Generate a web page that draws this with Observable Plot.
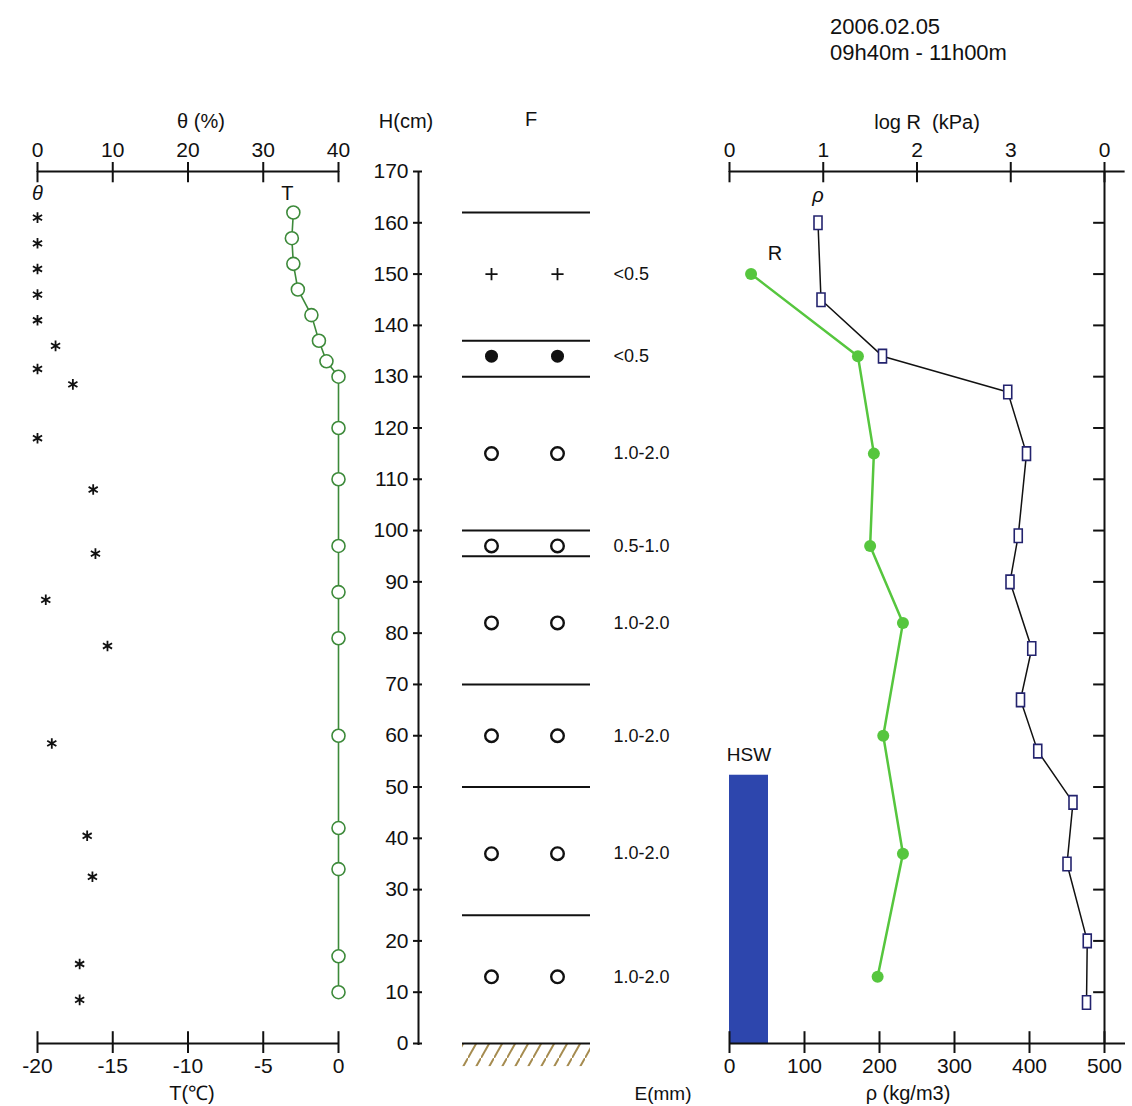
<!DOCTYPE html>
<html><head><meta charset="utf-8">
<script src="https://cdn.jsdelivr.net/npm/d3@7"></script>
<script src="https://cdn.jsdelivr.net/npm/@observablehq/plot@0.6"></script>
<style>
body{margin:0;background:#fff;font-family:"Liberation Sans",Arial,sans-serif;}
#chart{position:relative;width:1132px;height:1106px;overflow:hidden;}
#chart svg{position:absolute;left:0;top:0;}
.lab{position:absolute;transform:translate(-50%,-50%);font-size:20px;white-space:pre;color:#111;line-height:1;}
.labl{position:absolute;transform:translate(0,-50%);font-size:22px;white-space:pre;color:#111;line-height:1;}
</style></head><body><div id="chart"></div>
<script>
// ---------- data ----------
// snow temperature T (°C)
const tempHeights = [162,157,152,147,142,137,133,130,120,110,97,88,79,60,42,34,17,10];
const tempValues  = [-3.0,-3.1,-3.0,-2.7,-1.8,-1.3,-0.8,0,0,0,0,0,0,0,0,0,0,0];
// water content θ (%)
const thetaHeights = [161,156,151,146,141,136,131.5,128.5,118,108,95.5,86.5,77.5,58.5,40.5,32.5,15.5,8.5];
const thetaValues  = [0,0,0,0,0,2.4,0,4.7,0,7.4,7.7,1.1,9.3,1.9,6.6,7.3,5.6,5.6];
// density ρ (kg/m3)
const rhoHeights = [160,145,134,127,115,99,90,77,67,57,47,35,20,8];
const rhoValues  = [118,122,204,371,396,385,374,403,388,411,458,450,477,476];
// hardness log R (kPa)
const hardHeights = [150,134,115,97,82,60,37,13];
const hardValues  = [0.23,1.37,1.54,1.50,1.85,1.64,1.85,1.58];
// layers
const layerBoundaries = [162,137,130,100,95,70,50,25,0];
const layerMids   = [150,134,115,97,82,60,37,13];
const grainShapes = ["+","●","○","○","○","○","○","○"];
const grainSizes  = ["<0.5","<0.5","1.0-2.0","0.5-1.0","1.0-2.0","1.0-2.0","1.0-2.0","1.0-2.0"];
// HSW bar
const hswValue = 52, hswHeight = 52.3;
// ticks
const heightTicks = d3.range(0,171,10);
const tempTicks = [-20,-15,-10,-5,0];
const thetaTicks = [0,10,20,30,40];
const rhoTicks = [0,100,200,300,400,500];
const logRTicks = [0,1,2,3,4];
const logRTickLabels = ["0","1","2","3","0"];
const dateLines = ["2006.02.05","09h40m - 11h00m"];

// ---------- tables ----------
const temp = tempHeights.map((H,i)=>({H, T:tempValues[i]}));
const theta = thetaHeights.map((H,i)=>({H, theta:thetaValues[i]}));
const rho = rhoHeights.map((H,i)=>({H, rho:rhoValues[i]}));
const hard = hardHeights.map((H,i)=>({H, logR:hardValues[i]}));
const layers = layerMids.map((H,i)=>({H, shape:grainShapes[i], size:grainSizes[i]}));

// ---------- layout ----------
const W=1132, HT=1106;
const common = {
  width:W, height:HT, marginTop:171, marginBottom:HT-1043,
  y:{domain:[0,170], axis:null},
  style:{background:"transparent", fontFamily:"'Liberation Sans', Arial, sans-serif", fontSize:"21px", color:"#111", overflow:"visible"}
};
const ink = "#111", tGreen = "#3d8a3a", rGreen = "#56c63e", navy = "#23236e", barBlue = "#2d46ad";
const tallRect = {draw(ctx, size){ const s=Math.sqrt(size/Math.PI); const w=s*0.8, h=s*1.35; ctx.rect(-w,-h,2*w,2*h); }};

const chart = document.getElementById("chart");

// Left: temperature
chart.append(Plot.plot({...common, marginLeft:37, marginRight:W-338,
  x:{domain:[-20,0], axis:null},
  marks:[
    Plot.ruleY([0], {x1:-20, x2:0, stroke:ink, strokeWidth:2}),
    Plot.axisX({ticks:tempTicks, anchor:"bottom", label:null, tickSize:10, tickPadding:5, tickFormat:d=>String(d), fontSize:21, stroke:ink, strokeWidth:2}),
    Plot.ruleX(tempTicks, {y1:0, y2:2.3, stroke:ink, strokeWidth:2}),
    Plot.line(temp, {x:"T", y:"H", stroke:tGreen, strokeWidth:1.6}),
    Plot.dot(temp, {x:"T", y:"H", r:6.5, stroke:tGreen, fill:"white", strokeWidth:1.6}),
    Plot.text(temp.slice(0,1), {x:"T", y:"H", text:()=>"T", dx:-6, dy:-19, fontSize:20})
  ]}));

// Left: water content
chart.append(Plot.plot({...common, marginLeft:37, marginRight:W-338,
  x:{domain:[0,40], axis:null},
  marks:[
    Plot.ruleY([170], {x1:0, x2:40, stroke:ink, strokeWidth:2}),
    Plot.axisX({ticks:thetaTicks, anchor:"top", label:null, tickSize:10, tickPadding:5, fontSize:21, stroke:ink, strokeWidth:2}),
    Plot.ruleX(thetaTicks, {y1:170, y2:167.8, stroke:ink, strokeWidth:2}),
    Plot.dot(theta, {x:"theta", y:"H", symbol:"asterisk", r:5, stroke:ink, strokeWidth:1.8}),
    Plot.text(theta.slice(0,1), {x:"theta", y:"H", text:()=>"θ", dy:-24, fontSize:20, fontStyle:"italic"})
  ]}));

// Middle: height axis and layers
const mid = Plot.plot({...common, marginLeft:418, marginRight:W-718,
  x:{domain:[0,30], axis:null},
  marks:[
    Plot.rect([0], {x1:4.4, x2:17.2, y1:0, y2:-4.5, fill:"url(#hatch)"}),
    Plot.ruleX([0], {y1:-0.4, y2:170, stroke:ink, strokeWidth:2}),
    Plot.axisY({ticks:heightTicks, anchor:"left", label:null, tickSize:5, tickPadding:5, fontSize:21, stroke:ink, strokeWidth:2}),
    Plot.ruleY(heightTicks, {x1:0, x2:0.4, stroke:ink, strokeWidth:2}),
    Plot.ruleY(layerBoundaries, {x1:4.4, x2:17.2, stroke:ink, strokeWidth:2}),
    ...[7.3, 13.9].flatMap(xc => [
      Plot.dot(layers.filter(d=>d.shape==="+"), {x:xc, y:"H", symbol:"plus", r:4, stroke:ink, strokeWidth:1.8}),
      Plot.dot(layers.filter(d=>d.shape==="●"), {x:xc, y:"H", r:6.5, fill:ink}),
      Plot.dot(layers.filter(d=>d.shape==="○"), {x:xc, y:"H", r:6.3, stroke:ink, fill:"none", strokeWidth:2.4})
    ]),
    Plot.text(layers, {x:19.5, y:"H", text:"size", textAnchor:"start", fontSize:18})
  ]});
const defs = document.createElementNS("http://www.w3.org/2000/svg","defs");
defs.innerHTML = '<pattern id="hatch" patternUnits="userSpaceOnUse" width="13" height="23"><path d="M0,23 L13,0" stroke="#a58b4f" stroke-width="2"/></pattern>';
mid.insertBefore(defs, mid.firstChild);
chart.append(mid);

// Right: density
chart.append(Plot.plot({...common, marginLeft:729, marginRight:W-1104,
  x:{domain:[0,500], axis:null},
  marks:[
    Plot.rect([0], {x1:0, x2:hswValue, y1:0, y2:hswHeight, fill:barBlue}),
    Plot.text(["HSW"], {x:hswValue/2, y:hswHeight, dy:-20, fontSize:19}),
    Plot.ruleY([0], {x1:0, x2:528, stroke:ink, strokeWidth:2}),
    Plot.axisX({ticks:rhoTicks, anchor:"bottom", label:null, tickSize:10, tickPadding:5, fontSize:21, stroke:ink, strokeWidth:2}),
    Plot.ruleX(rhoTicks, {y1:0, y2:2.3, stroke:ink, strokeWidth:2}),
    Plot.ruleX([500], {y1:0, y2:170, stroke:ink, strokeWidth:2}),
    Plot.ruleY(heightTicks.filter(h=>h>0 && h<170), {x1:485.5, x2:500, stroke:ink, strokeWidth:2}),
    Plot.line(rho, {x:"rho", y:"H", stroke:ink, strokeWidth:1.5}),
    Plot.dot(rho, {x:"rho", y:"H", symbol:tallRect, r:5, stroke:navy, fill:"white", strokeWidth:1.6}),
    Plot.text(rho.slice(0,1), {x:"rho", y:"H", text:()=>"ρ", dy:-27, fontSize:20, fontStyle:"italic"})
  ]}));

// Right: hardness
chart.append(Plot.plot({...common, marginLeft:729, marginRight:W-1104,
  x:{domain:[0,4], axis:null},
  marks:[
    Plot.ruleY([170], {x1:0, x2:4.22, stroke:ink, strokeWidth:2}),
    Plot.axisX({ticks:logRTicks, anchor:"top", label:null, tickSize:10, tickPadding:5, tickFormat:d=>logRTickLabels[logRTicks.indexOf(d)], fontSize:21, stroke:ink, strokeWidth:2}),
    Plot.ruleX(logRTicks, {y1:170, y2:167.8, stroke:ink, strokeWidth:2}),
    Plot.line(hard, {x:"logR", y:"H", stroke:rGreen, strokeWidth:2.5}),
    Plot.dot(hard, {x:"logR", y:"H", r:6, fill:rGreen}),
    Plot.text(hard.slice(0,1), {x:"logR", y:"H", text:()=>"R", dx:24, dy:-20, fontSize:20})
  ]}));

// ---------- labels ----------
function lab(text, x, y, cls="lab", size){
  const d=document.createElement("div"); d.className=cls; d.textContent=text;
  d.style.left=x+"px"; d.style.top=y+"px"; if(size) d.style.fontSize=size+"px";
  chart.append(d);
}
lab("θ (%)", 201, 121);
lab("H(cm)", 406, 121);
lab("F", 531, 119);
lab("log R  (kPa)", 927, 122);
lab("T(℃)", 192, 1093);
lab("E(mm)", 663, 1093, "lab", 19);
lab("ρ (kg/m3)", 908, 1093);
lab(dateLines[0], 830, 27, "labl");
lab(dateLines[1], 830, 53, "labl");
</script></body></html>
